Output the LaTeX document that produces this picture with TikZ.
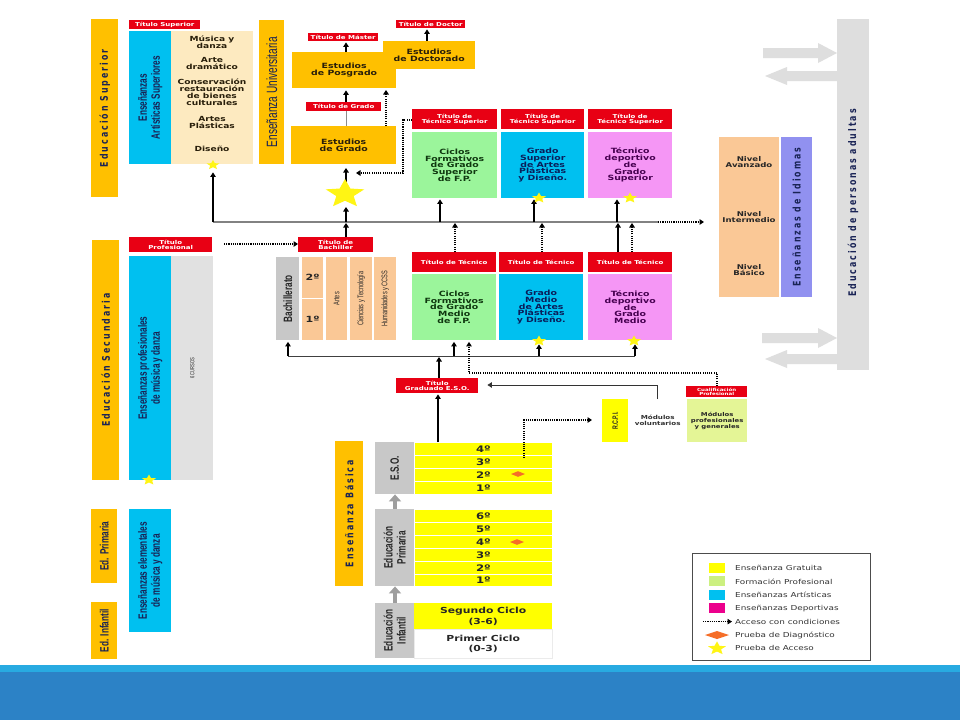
\documentclass[tikz,border=0pt]{standalone}
\usepackage{fontspec}
\setmainfont{DejaVu Sans}
\newfontfamily\wide[FakeStretch=1.3]{DejaVu Sans}
\newfontfamily\cond[FakeStretch=0.68]{Liberation Sans}
\newfontfamily\spc[FakeStretch=0.75,LetterSpace=19]{DejaVu Sans}
\usetikzlibrary{arrows.meta}
\lineskiplimit=-100pt
\lineskip=0pt
\definecolor{orng}{RGB}{255,192,0}
\definecolor{redt}{RGB}{232,0,20}
\definecolor{cyanb}{RGB}{0,192,240}
\definecolor{creamb}{RGB}{253,234,192}
\definecolor{peach}{RGB}{250,200,150}
\definecolor{greenb}{RGB}{155,245,155}
\definecolor{pinkb}{RGB}{245,150,245}
\definecolor{purp}{RGB}{145,145,240}
\definecolor{grayb}{RGB}{200,200,200}
\definecolor{grayl}{RGB}{225,225,225}
\definecolor{adultg}{RGB}{222,222,222}
\definecolor{yel}{RGB}{255,255,0}
\definecolor{staryel}{RGB}{255,245,20}
\definecolor{fpgreen}{RGB}{228,245,150}
\definecolor{fpsw}{RGB}{204,240,128}
\definecolor{diam}{RGB}{245,110,40}
\definecolor{navy}{RGB}{25,35,85}
\definecolor{txtbrown}{RGB}{40,30,10}
\definecolor{txtgreen}{RGB}{15,55,15}
\definecolor{txtnavy}{RGB}{10,30,90}
\definecolor{txtpurp}{RGB}{70,0,80}
\definecolor{linegray}{RGB}{130,130,130}
\definecolor{bandA}{RGB}{40,170,225}
\definecolor{bandB}{RGB}{44,130,198}
\newcommand\bfw[2]{\wide\bfseries\fontsize{#1}{#2}\selectfont}
\newcommand\rgw[2]{\wide\fontsize{#1}{#2}\selectfont}
\newcommand\cdb[2]{\cond\bfseries\fontsize{#1}{#2}\selectfont}
\newcommand\cdr[2]{\cond\fontsize{#1}{#2}\selectfont}
\newcommand\mybox[7]{\node[#6,anchor=north west,inner sep=0pt,minimum width={(#4-#2)*1pt},minimum height={(#5-#3)*1pt}] (#1) at (#2,#3) {#7};}
\newcommand\ystar[3]{\begin{scope}[shift={(#1,#2)},xscale=1.35]
\fill[staryel] (-90:#3) -- (-54:{0.45*#3}) -- (-18:#3) -- (18:{0.45*#3}) -- (54:#3) -- (90:{0.45*#3}) -- (126:#3) -- (162:{0.45*#3}) -- (198:#3) -- (234:{0.45*#3}) -- cycle;
\end{scope}}
\newcommand\dmd[4]{\fill[diam] (#1-#3,#2) -- (#1,#2-#4) -- (#1+#3,#2) -- (#1,#2+#4) -- cycle;}
\tikzset{
 ttl/.style={fill=redt,text=white,font=\bfw{5.4}{5.6},align=center},
 est/.style={fill=orng,text=txtbrown,font=\bfw{7.2}{7},align=center},
 grn/.style={fill=greenb,text=txtgreen,font=\bfw{7.2}{6.8},align=center},
 cyb/.style={fill=cyanb,text=txtnavy,font=\bfw{7.2}{6.8},align=center},
 pkb/.style={fill=pinkb,text=txtpurp,font=\bfw{7.2}{6.8},align=center},
 crm/.style={text=txtbrown,font=\bfw{7}{7},align=center,inner sep=0pt},
 orb/.style={fill=orng},
 row/.style={fill=yel,draw=white,line width=0.8pt,font=\bfw{9}{9},text=black!85},
 vS/.style={rotate=90,font=\spc\bfseries\fontsize{10.5}{10.5}\selectfont,text=navy,inner sep=0pt},
 vC/.style={rotate=90,font=\cdb{12.1}{13},text=navy,align=center,inner sep=0pt},
 vsm/.style={rotate=90,font=\cdr{8.2}{8.2},text=black!85,inner sep=0pt},
 arr/.style={-{Triangle[length=4.5pt,width=5.5pt]},line width=1.1pt,black},
 darr/.style={arr,dash pattern=on 1.1pt off 1.1pt},
 garr/.style={-{Triangle[length=7pt,width=12pt]},line width=4.5pt,black!38},
 leg/.style={anchor=west,font=\rgw{6.8}{7},text=black!80,inner sep=0pt}
}
\begin{document}
\begin{tikzpicture}[x=1pt,y=-1pt]
\useasboundingbox (0,0) rectangle (960,720);
\fill[white] (0,0) rectangle (960,720);
% bottom band
\fill[bandA] (0,665) rectangle (960,672);
\fill[bandB] (0,672) rectangle (960,720);

% ===== Educacion superior =====
\mybox{edsup}{91}{19}{118}{197}{orb}{}
\node[vS] (edsupl) at (edsup.center) {Educación Superior};
\mybox{tsup}{129}{20}{200}{29}{ttl}{Título Superior}
\mybox{eas}{129}{31}{171}{164}{fill=cyanb}{}
\node[vC] (easl) at (eas.center) {Enseñanzas\\Artísticas Superiores};
\mybox{cream}{171}{31}{253}{164}{fill=creamb}{}
\node[crm] (c1) at (212,42) {Música y\\danza};
\node[crm] (c2) at (212,63) {Arte\\dramático};
\node[crm] (c3) at (212,92) {Conservación\\restauración\\de bienes\\culturales};
\node[crm] (c4) at (212,122) {Artes\\Plásticas};
\node[crm] (c5) at (212,149) {Diseño};
\mybox{univ}{259}{20}{284}{164}{orb}{}
\node[vC,font=\cdr{14.9}{14.9}] (univl) at (univ.center) {Enseñanza Universitaria};

\mybox{mast}{308}{33}{378}{41}{ttl}{Título de Máster}
\mybox{posg}{292}{52}{396}{88}{est}{Estudios\\de Posgrado}
\mybox{doct}{383}{41}{475}{69}{est}{Estudios\\de Doctorado}
\mybox{dtit}{396}{20}{465}{28}{ttl}{Título de Doctor}
\mybox{tgra}{306}{102}{381}{111}{ttl}{Título de Grado}
\mybox{grado}{291}{126}{396}{164}{est}{Estudios\\de Grado}

\mybox{tts1}{412}{109}{497}{129}{ttl}{Título de\\Técnico Superior}
\mybox{tts2}{501}{109}{584}{129}{ttl}{Título de\\Técnico Superior}
\mybox{tts3}{588}{109}{672}{129}{ttl}{Título de\\Técnico Superior}
\mybox{cfs}{412}{132}{497}{198}{grn}{Ciclos\\Formativos\\de Grado\\Superior\\de F.P.}
\mybox{gsap}{501}{132}{584}{198}{cyb}{Grado\\Superior\\de Artes\\Plásticas\\y Diseño.}
\mybox{tdgs}{588}{132}{672}{198}{pkb}{Técnico\\deportivo\\de\\Grado\\Superior}

% ===== Idiomas / adultos =====
\mybox{idio}{719}{137}{779}{297}{fill=peach}{}
\node[crm,font=\bfw{6.6}{6.6},text=black!85] (nav) at (749,162) {Nivel\\Avanzado};
\node[crm,font=\bfw{6.6}{6.6},text=black!85] (nin) at (749,217) {Nivel\\Intermedio};
\node[crm,font=\bfw{6.6}{6.6},text=black!85] (nba) at (749,270) {Nivel\\Básico};
\mybox{idl}{781}{137}{812}{297}{fill=purp}{}
\node[vS] (idll) at (idl.center) {Enseñanzas de Idiomas};
\mybox{adult}{837}{19}{869}{370}{fill=adultg}{}
\node[vS] (adultl) at (853,203) {Educación de personas adultas};
\fill[adultg] (763,48) -- (818,48) -- (818,43) -- (837,53) -- (818,63) -- (818,58) -- (763,58) -- cycle;
\fill[adultg] (837,71) -- (787,71) -- (787,67) -- (765,76) -- (787,85) -- (787,81) -- (837,81) -- cycle;
\fill[adultg] (762,333) -- (818,333) -- (818,328) -- (837,338) -- (818,348) -- (818,343) -- (762,343) -- cycle;
\fill[adultg] (837,354) -- (787,354) -- (787,350) -- (765,359) -- (787,368) -- (787,364) -- (837,364) -- cycle;

% ===== Secundaria =====
\mybox{edsec}{92}{240}{119}{480}{orb}{}
\node[vS] (edsecl) at (edsec.center) {Educación Secundaria};
\mybox{tprof}{129}{237}{212}{252}{ttl}{Título\\Profesional}
\mybox{epmd}{129}{256}{171}{480}{fill=cyanb}{}
\node[vC] (epmdl) at (epmd.center) {Enseñanzas profesionales\\de música y danza};
\mybox{cursos}{171}{256}{213}{480}{fill=grayl}{}
\node[vsm,font=\cdr{6}{6}] (cursosl) at (cursos.center) {6 CURSOS};
\mybox{tbach}{298}{237}{373}{252}{ttl}{Título de\\Bachiller}
\mybox{bach}{276}{257}{299}{340}{fill=grayb}{}
\node[vC,text=black!85] (bachl) at (bach.center) {Bachillerato};
\mybox{b2}{302}{257}{323}{298}{fill=peach,font=\bfw{8.5}{8.5},text=black!85}{2º}
\mybox{b1}{302}{299}{323}{340}{fill=peach,font=\bfw{8.5}{8.5},text=black!85}{1º}
\mybox{artes}{326}{257}{347}{340}{fill=peach}{}
\node[vsm] (artesl) at (artes.center) {Artes};
\mybox{cyt}{350}{257}{372}{340}{fill=peach}{}
\node[vsm] (cytl) at (cyt.center) {Ciencias y Tecnología};
\mybox{hum}{374}{257}{396}{340}{fill=peach}{}
\node[vsm] (huml) at (hum.center) {Humanidades y CCSS};

\mybox{tt1}{412}{252}{496}{272}{ttl}{Título de Técnico}
\mybox{tt2}{499}{252}{583}{272}{ttl}{Título de Técnico}
\mybox{tt3}{588}{252}{672}{272}{ttl}{Título de Técnico}
\mybox{cfm}{412}{274}{496}{340}{grn}{Ciclos\\Formativos\\de Grado\\Medio\\de F.P.}
\mybox{gmap}{499}{274}{583}{340}{cyb}{Grado\\Medio\\de Artes\\Plásticas\\y Diseño.}
\mybox{tdgm}{588}{274}{672}{340}{pkb}{Técnico\\deportivo\\de\\Grado\\Medio}

\mybox{tgeso}{396}{378}{478}{393}{ttl}{Título\\Graduado E.S.O.}
\mybox{cualif}{686}{386}{747}{397}{ttl,font=\bfw{4.2}{4.4}}{Cualificación\\Profesional}
\mybox{rcpi}{602}{399}{628}{442}{fill=yel}{}
\node[vsm,font=\cdb{7.7}{7.7}] (rcpil) at (rcpi.center) {R.C.P.I.};
\mybox{modv}{628}{399}{687}{442}{fill=white,font=\bfw{5.5}{6},text=black!80,align=center}{Módulos\\voluntarios}
\mybox{modp}{687}{399}{747}{442}{fill=fpgreen,font=\bfw{5.3}{6},text=black!85,align=center}{Módulos\\profesionales\\y generales}

% ===== Basica =====
\mybox{ebas}{335}{441}{363}{586}{orb}{}
\node[vS] (ebasl) at (ebas.center) {Enseñanza Básica};
\mybox{eso}{375}{442}{414}{494}{fill=grayb}{}
\node[vC,text=black!85] (esol) at (eso.center) {E.S.O.};
\mybox{e4}{414}{442}{552}{455}{row}{4º}
\mybox{e3}{414}{455}{552}{468}{row}{3º}
\mybox{e2}{414}{468}{552}{481}{row}{2º}
\mybox{e1}{414}{481}{552}{494}{row}{1º}
\mybox{prim}{375}{509}{414}{586}{fill=grayb}{}
\node[vC,text=black!85] (priml) at (prim.center) {Educación\\Primaria};
\mybox{p6}{414}{509}{552}{522}{row}{6º}
\mybox{p5}{414}{522}{552}{535}{row}{5º}
\mybox{p4}{414}{535}{552}{548}{row}{4º}
\mybox{p3}{414}{548}{552}{561}{row}{3º}
\mybox{p2}{414}{561}{552}{574}{row}{2º}
\mybox{p1}{414}{574}{552}{586}{row}{1º}
\mybox{inf}{375}{603}{414}{658}{fill=grayb}{}
\node[vC,text=black!85] (infl) at (inf.center) {Educación\\Infantil};
\mybox{seg}{414}{603}{552}{629}{fill=yel,font=\bfw{8.3}{10.5},text=black!85,align=center}{Segundo Ciclo\\(3-6)}
\mybox{pri}{414}{629}{552}{658}{fill=white,draw=black!8,font=\bfw{8.3}{10.5},text=black!85,align=center}{Primer Ciclo\\(0-3)}

% ===== Left bottom =====
\mybox{edprim}{91}{509}{117}{583}{orb}{}
\node[vC] (edpriml) at (edprim.center) {Ed. Primaria};
\mybox{edinf}{91}{602}{117}{659}{orb}{}
\node[vC] (edinfl) at (edinf.center) {Ed. Infantil};
\mybox{elem}{129}{509}{171}{632}{fill=cyanb}{}
\node[vC] (eleml) at (elem.center) {Enseñanzas elementales\\de música y danza};

% ===== connectors =====
\coordinate (l1w) at (213,222);
\coordinate (l1e) at (658,222);
\coordinate (l1end) at (704,222);
\coordinate (l1s) at (346,222);
\coordinate (bigstar) at (345,194);
\draw[line width=1.5pt,linegray] (l1w) -- (l1e);
\draw[darr] (l1e) -- (l1end);
\draw[arr,shorten >=8pt] (l1w) -- (l1w |- cream.south);
\draw[arr] (l1s) -- (346,207);
\draw[arr] (346,182) -- (346,168);
\draw[line width=1pt,black!45] (grado.north -| l1s) -- (tgra.south -| l1s);
\draw[arr,shorten >=2pt] (tgra.north -| l1s) -- (posg.south -| l1s);
\draw[darr,shorten >=2pt] (386,126) -- (386,88);
\draw[arr,shorten >=1pt] (posg.north -| l1s) -- (mast.south -| l1s);
\draw[arr,shorten >=1pt] (427,41) -- (dtit.south -| 427,0);
\draw[darr] (tts1.west |- 0,120) -- (403,120) -- (403,173) -- (356,173);
\draw[arr,shorten >=1pt] (440,222) -- (cfs.south -| 440,0);
\draw[arr,shorten >=1pt] (534,222) -- (gsap.south -| 534,0);
\draw[arr,shorten >=1pt] (617,222) -- (tdgs.south -| 617,0);
\draw[arr,shorten >=1pt] (tbach.north -| l1s) -- (l1s);
\draw[darr,shorten >=1pt] (tt1.north -| 455,0) -- (455,222);
\draw[darr,shorten >=1pt] (tt2.north -| 542,0) -- (542,222);
\draw[arr,shorten >=1pt] (tt3.north -| 618,0) -- (618,222);
\draw[darr,shorten >=1pt] (tt3.north -| 632,0) -- (632,222);
\draw[darr] (224,244) -- (tbach.west |- 0,244);

\coordinate (l2w) at (288,356);
\coordinate (l2e) at (635,356);
\draw[line width=1pt,black!75] (l2w) -- (l2e);
\draw[arr,shorten >=1.5pt] (l2w) -- (bach.south -| l2w);
\draw[arr,shorten >=1.5pt] (454,356) -- (cfm.south -| 454,0);
\draw[arr,shorten >=4pt] (539,356) -- (gmap.south -| 539,0);
\draw[arr,shorten >=4pt] (l2e) -- (tdgm.south -| l2e);
\draw[arr,shorten >=1pt] (tgeso.north -| 439,0) -- (439,356);
\draw[darr,shorten >=1.5pt] (cualif.north -| 717,0) -- (717,373) -- (469,373) -- (cfm.south -| 469,0);
\draw[arr,line width=1pt,black!80,shorten >=9pt] (modv.north -| 657,0) -- (657,385) -- (tgeso.east |- 0,385);
\draw[arr,shorten >=1pt] (e4.north -| 438,0) -- (tgeso.south -| 438,0);
\draw[darr] (524,458) -- (524,420) -- (592,420);
\draw[garr] (prim.north -| 395,0) -- (eso.south -| 395,0);
\draw[garr] (inf.north -| 395,0) -- (prim.south -| 395,0);

% ===== stars and diamonds =====
\ystar{345}{194}{15}
\ystar{213}{165}{5}
\ystar{539}{198}{5.5}
\ystar{630}{198}{5.5}
\ystar{539}{341}{5.5}
\ystar{634}{341}{5.5}
\ystar{149}{480}{5.5}
\dmd{518}{474}{7}{2.8}
\dmd{517}{542}{7}{2.8}

% ===== legend =====
\draw[black!70,line width=0.8pt] (692,553) rectangle (870,660);
\fill[yel] (709,563) rectangle (725,573);
\fill[fpsw] (709,576.4) rectangle (725,586.4);
\fill[cyanb] (709,589.8) rectangle (725,599.8);
\fill[magenta] (709,603.2) rectangle (725,613.2);
\draw[darr,line width=0.8pt] (703,621.6) -- (732,621.6);
\dmd{717}{635}{12}{4}
\ystar{717}{648.4}{7}
\node[leg] (lg1) at (735,568) {Enseñanza Gratuita};
\node[leg] (lg2) at (735,581.4) {Formación Profesional};
\node[leg] (lg3) at (735,594.8) {Enseñanzas Artísticas};
\node[leg] (lg4) at (735,608.2) {Enseñanzas Deportivas};
\node[leg] (lg5) at (735,621.6) {Acceso con condiciones};
\node[leg] (lg6) at (735,635) {Prueba de Diagnóstico};
\node[leg] (lg7) at (735,648.4) {Prueba de Acceso};
\end{tikzpicture}
\end{document}
